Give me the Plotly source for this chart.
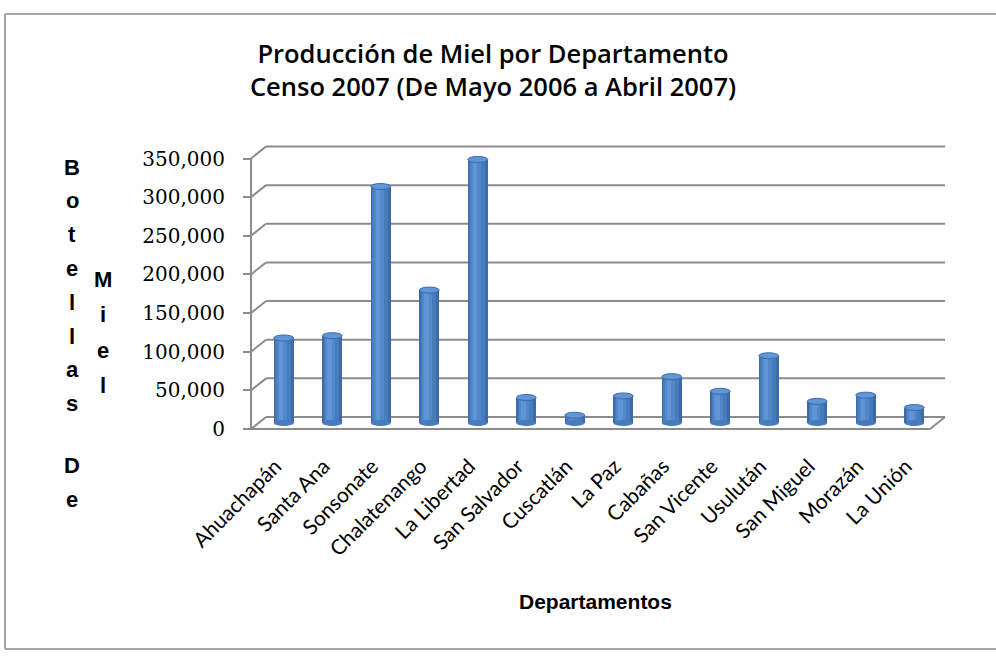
import plotly.graph_objects as go

# ---------------- data ----------------
departamentos = ["Ahuachapán", "Santa Ana", "Sonsonate", "Chalatenango", "La Libertad",
                 "San Salvador", "Cuscatlán", "La Paz", "Cabañas", "San Vicente",
                 "Usulután", "San Miguel", "Morazán", "La Unión"]
botellas = [110000, 113000, 306000, 172000, 341000, 33000, 10000,
            35000, 60000, 41000, 87000, 28000, 36000, 20000]
y_ticks = [0, 50000, 100000, 150000, 200000, 250000, 300000, 350000]
title_lines = ["Producción de Miel por Departamento", "Censo 2007 (De Mayo 2006 a Abril 2007)"]
x_title = "Departamentos"
y_title_col1 = ["Botellas", "De"]
y_title_col2 = ["Miel"]

# ---------------- layout geometry (pixels) ----------------
W, H = 996, 656
PLOT_L, PLOT_R, PLOT_T, PLOT_B = 240, 950, 136, 431
FRONT_LEFT = 251          # pixel x of front y-axis
FRONT_ZERO = 429          # pixel y of value 0 on the front axis
PX_CAT = 48.5             # pixels per category
SCALE = 270.5 / 350000    # pixels per unit value
DEPTH_X, DEPTH_Y = 15, 12 # back wall offset in pixels
BAR_DX, BAR_DY = 8.5, 6   # bar offset (half depth)
BAR_W = 0.41              # bar width in categories
TOP_H = 6                 # ellipse top height in pixels

n = len(departamentos)
idx = list(range(n))

x0 = -0.5 - (FRONT_LEFT - PLOT_L) / PX_CAT
x1 = x0 + (PLOT_R - PLOT_L) / PX_CAT
y0 = -(PLOT_B - FRONT_ZERO) / SCALE
y1 = y0 + (PLOT_B - PLOT_T) / SCALE
DX = DEPTH_X / PX_CAT
DY = DEPTH_Y / SCALE
bx = BAR_DX / PX_CAT
by = BAR_DY / SCALE


def pxx(p):
    return (p - PLOT_L) / (PLOT_R - PLOT_L)


def pxy(p):
    return (PLOT_B - p) / (PLOT_B - PLOT_T)


GRID = "#8C8C8C"
BORDER = "#A6A6A6"
fig = go.Figure()

# cylinder-like bars: layered bars
layers = [
    (BAR_W, -BAR_W / 2, "#3B6BA9"),
    (BAR_W * 0.78, -BAR_W / 2 + BAR_W * 0.08, "#477BBC"),
    (BAR_W * 0.5, -BAR_W / 2 + BAR_W * 0.14, "#5288C9"),
    (BAR_W * 0.24, -BAR_W / 2 + BAR_W * 0.24, "#5E95D5"),
]
for k, (w, off, col) in enumerate(layers):
    fig.add_trace(go.Bar(
        x=idx, y=botellas, width=w, offset=off,
        marker=dict(color=col, line=dict(width=0)),
        xaxis="x2", yaxis="y2", showlegend=False,
        hovertext=departamentos if k == 0 else None,
        hoverinfo="text+y" if k == 0 else "skip",
    ))

shapes = []
# back wall gridlines and diagonals
for v in y_ticks:
    shapes.append(dict(type="line", xref="x", yref="y", x0=-0.5 + DX, x1=n - 0.5 + DX,
                       y0=v + DY, y1=v + DY, line=dict(color=GRID, width=2), layer="below"))
    shapes.append(dict(type="line", xref="x", yref="y", x0=-0.5, x1=-0.5 + DX,
                       y0=v, y1=v + DY, line=dict(color=GRID, width=2), layer="below"))
# front vertical axis
shapes.append(dict(type="line", xref="x", yref="y", x0=-0.5, x1=-0.5,
                   y0=y_ticks[0], y1=y_ticks[-1], line=dict(color=GRID, width=2), layer="below"))
# floor front edge and right diagonal
shapes.append(dict(type="line", xref="x", yref="y", x0=-0.5, x1=n - 0.5,
                   y0=0, y1=0, line=dict(color=GRID, width=2), layer="below"))
shapes.append(dict(type="line", xref="x", yref="y", x0=n - 0.5, x1=n - 0.5 + DX,
                   y0=0, y1=DY, line=dict(color=GRID, width=2), layer="below"))
# cylinder tops
eh = TOP_H / SCALE
for i, v in zip(idx, botellas):
    shapes.append(dict(type="circle", xref="x2", yref="y2",
                       x0=i - BAR_W / 2, x1=i + BAR_W / 2, y0=v - eh / 2, y1=v + eh / 2,
                       fillcolor="#6196D6", line=dict(color="#3B6BA9", width=1), layer="above"))
    shapes.append(dict(type="circle", xref="x2", yref="y2",
                       x0=i - BAR_W / 2, x1=i + BAR_W / 2, y0=-eh / 2, y1=eh / 2,
                       fillcolor="#477BBC", line=dict(width=0), layer="above"))
# outer border (left, top, bottom; right edge lies outside the picture)
for (ax0, ay0, ax1, ay1) in [(5, 14, 5, 649), (5, 14, 996, 14), (5, 649, 996, 649)]:
    shapes.append(dict(type="line", xref="paper", yref="paper",
                       x0=pxx(ax0), x1=pxx(ax1), y0=pxy(ay0), y1=pxy(ay1),
                       line=dict(color=BORDER, width=2)))

annotations = []
# y-axis title letters stacked vertically
col1_x, col2_x = 72, 103
yy = 167
for wi, word in enumerate(y_title_col1):
    for ch in word:
        annotations.append(dict(text=ch, xref="paper", yref="paper", x=pxx(col1_x), y=pxy(yy),
                                showarrow=False, xanchor="center", yanchor="middle",
                                font=dict(family="Liberation Sans", size=22, color="black",
                                          weight="bold")))
        yy += 33.8
    yy += 28
yy = 279
for word in y_title_col2:
    for ch in word:
        annotations.append(dict(text=ch, xref="paper", yref="paper", x=pxx(col2_x), y=pxy(yy),
                                showarrow=False, xanchor="center", yanchor="middle",
                                font=dict(family="Liberation Sans", size=22, color="black",
                                          weight="bold")))
        yy += 35.5
annotations.append(dict(text=x_title, xref="paper", yref="paper", x=pxx(595), y=pxy(601),
                        showarrow=False, xanchor="center", yanchor="middle",
                        font=dict(family="Liberation Sans", size=21, color="black", weight="bold")))

fig.update_layout(
    width=W, height=H,
    margin=dict(l=PLOT_L, r=W - PLOT_R, t=PLOT_T, b=H - PLOT_B, pad=0),
    paper_bgcolor="white", plot_bgcolor="rgba(0,0,0,0)",
    barmode="overlay", bargap=0,
    title=dict(text="<br>".join(title_lines), xref="paper", x=pxx(493), xanchor="center",
               yref="container", y=1 - 63 / H, yanchor="middle",
               font=dict(family="Open Sans", size=25.5, color="black", weight=600)),
    xaxis=dict(range=[x0, x1], tickmode="array", tickvals=idx, ticktext=departamentos,
               tickangle=-45, ticks="", showgrid=False, zeroline=False, showline=False,
               tickfont=dict(family="Lato", size=21, color="black"), ticklabelstandoff=18,
               anchor="y", fixedrange=True),
    xaxis3=dict(range=[x0, x1], overlaying="x", anchor="y", tickmode="array",
                tickvals=[i - 0.5 for i in range(n + 1)], ticks="outside", ticklen=8,
                tickwidth=2, tickcolor=GRID, showticklabels=False, showgrid=False,
                zeroline=False, showline=False),
    yaxis=dict(range=[y0, y1], tickmode="array", tickvals=y_ticks, tickformat=",",
               ticks="outside", ticklen=8, tickwidth=2, tickcolor=GRID, showgrid=False,
               zeroline=False, showline=False, anchor="free",
               position=pxx(FRONT_LEFT), ticklabelstandoff=14,
               tickfont=dict(family="DejaVu Serif", size=20, color="black")),
    xaxis2=dict(range=[x0 - bx, x1 - bx], overlaying="x", anchor="y2", visible=False),
    yaxis2=dict(range=[y0 - by, y1 - by], overlaying="y", anchor="x2", visible=False),
    shapes=shapes, annotations=annotations,
)

fig.write_html("out.html", config={"displayModeBar": False},
               post_script="document.body.style.margin='0';")
